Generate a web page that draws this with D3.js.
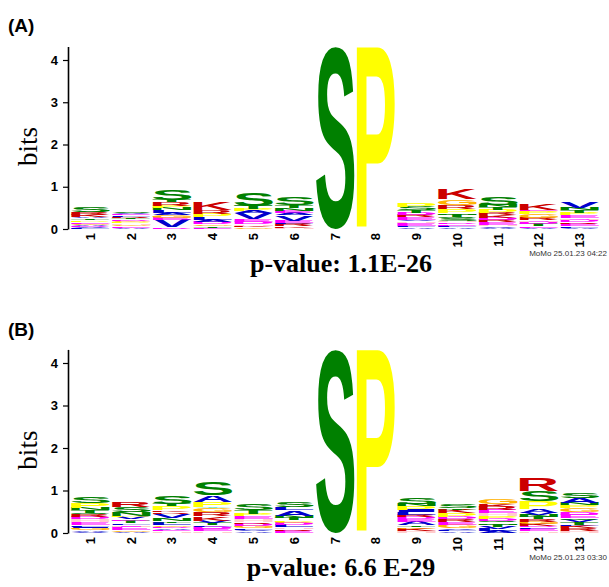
<!DOCTYPE html>
<html>
<head>
<meta charset="utf-8">
<script src="https://cdn.jsdelivr.net/npm/d3@7"></script>
<style>
  body { margin: 0; background: #fff; }
  svg { display: block; }
</style>
</head>
<body>
<div id="logo"></div>
<script>
// Motif positions and y ticks
let positions = [1, 2, 3, 4, 5, 6, 7, 8, 9, 10, 11, 12, 13];
let bitTicks = [0, 1, 2, 3, 4];
let panelNames = ["(A)", "(B)"];
let pValues = ["p-value: 1.1E-26", "p-value: 6.6 E-29"];
let stamps = ["MoMo 25.01.23 04:22", "MoMo 25.01.23 03:30"];

// Letter stacks per position, bottom to top: [residue, bits]
let stacksA = [
  [["L",0.02],["V",0.02],["D",0.03],["A",0.03],["G",0.03],["E",0.04],["P",0.04],["T",0.04],["A",0.04],["K",0.05],["R",0.05],["S",0.13]],
  [["A",0.03],["E",0.03],["G",0.04],["H",0.03],["P",0.04],["G",0.03],["D",0.03],["T",0.03],["R",0.03],["L",0.03],["E",0.03],["V",0.02],["S",0.03]],
  [["D",0.04],["V",0.17],["E",0.06],["G",0.06],["A",0.05],["L",0.06],["N",0.06],["P",0.05],["R",0.08],["T",0.05],["S",0.25]],
  [["E",0.03],["T",0.04],["G",0.04],["D",0.05],["A",0.05],["L",0.07],["P",0.08],["R",0.1],["K",0.18]],
  [["G",0.04],["K",0.04],["H",0.03],["D",0.06],["E",0.06],["V",0.14],["A",0.05],["P",0.05],["T",0.08],["S",0.3]],
  [["H",0.03],["K",0.04],["R",0.05],["L",0.03],["E",0.05],["V",0.12],["A",0.06],["E",0.05],["N",0.06],["T",0.07],["S",0.18]],
  [["S",4.31]],
  [["P",4.31]],
  [["A",0.04],["L",0.03],["E",0.07],["H",0.04],["V",0.04],["E",0.06],["R",0.05],["D",0.06],["T",0.06],["S",0.08],["P",0.08]],
  [["A",0.04],["L",0.04],["E",0.04],["D",0.04],["H",0.03],["S",0.05],["Q",0.04],["T",0.05],["N",0.04],["P",0.1],["R",0.1],["G",0.13],["K",0.24]],
  [["A",0.03],["V",0.03],["H",0.04],["E",0.06],["R",0.05],["D",0.06],["K",0.05],["R",0.06],["P",0.08],["T",0.05],["N",0.05],["S",0.18]],
  [["A",0.03],["E",0.04],["T",0.05],["D",0.05],["H",0.04],["R",0.05],["G",0.1],["P",0.06],["E",0.04],["K",0.14]],
  [["A",0.03],["L",0.03],["E",0.06],["R",0.04],["D",0.06],["H",0.04],["E",0.06],["P",0.06],["T",0.06],["N",0.05],["V",0.16]]
];

let stacksB = [
  [["V",0.03],["A",0.03],["G",0.05],["I",0.04],["L",0.04],["E",0.06],["H",0.07],["D",0.06],["R",0.06],["Q",0.04],["T",0.05],["N",0.05],["P",0.12],["S",0.15]],
  [["A",0.03],["G",0.04],["E",0.08],["H",0.04],["L",0.04],["T",0.05],["D",0.04],["V",0.05],["P",0.04],["N",0.08],["S",0.12],["R",0.12]],
  [["H",0.04],["E",0.04],["A",0.04],["D",0.03],["G",0.04],["L",0.05],["T",0.04],["N",0.07],["V",0.1],["R",0.04],["K",0.04],["P",0.1],["T",0.05],["S",0.18]],
  [["H",0.04],["E",0.06],["D",0.05],["L",0.04],["T",0.05],["V",0.05],["K",0.1],["R",0.1],["G",0.1],["Y",0.03],["P",0.12],["A",0.15],["S",0.32]],
  [["A",0.04],["V",0.04],["L",0.04],["G",0.05],["D",0.05],["R",0.04],["H",0.06],["E",0.07],["P",0.06],["T",0.08],["S",0.15]],
  [["E",0.05],["R",0.04],["H",0.04],["L",0.05],["D",0.05],["G",0.04],["P",0.04],["T",0.05],["N",0.05],["A",0.12],["L",0.07],["S",0.12]],
  [["S",4.31]],
  [["P",4.31]],
  [["H",0.05],["K",0.05],["G",0.04],["T",0.04],["A",0.08],["E",0.06],["D",0.05],["R",0.06],["L",0.07],["I",0.05],["P",0.08],["N",0.05],["S",0.15]],
  [["A",0.04],["L",0.04],["V",0.04],["G",0.08],["E",0.07],["R",0.06],["D",0.05],["P",0.08],["K",0.08],["T",0.04],["S",0.1]],
  [["A",0.05],["L",0.05],["V",0.05],["T",0.05],["N",0.04],["Q",0.05],["D",0.05],["P",0.07],["H",0.05],["E",0.08],["R",0.08],["K",0.06],["G",0.12]],
  [["H",0.04],["E",0.05],["L",0.04],["D",0.04],["K",0.05],["G",0.05],["R",0.05],["T",0.05],["N",0.05],["V",0.05],["A",0.1],["P",0.17],["S",0.24],["R",0.3]],
  [["H",0.05],["R",0.06],["K",0.05],["L",0.04],["T",0.05],["V",0.05],["Q",0.05],["E",0.08],["D",0.06],["G",0.09],["P",0.07],["N",0.05],["A",0.13],["S",0.11]]
];

// MEME protein colour scheme
let residueColor = {
  A: "#0000cc", C: "#0000cc", F: "#0000cc", I: "#0000cc", L: "#0000cc", M: "#0000cc", V: "#0000cc", W: "#0000cc",
  N: "#008000", Q: "#008000", S: "#008000", T: "#008000",
  D: "#ff00ff", E: "#ff00ff",
  K: "#cc0000", R: "#cc0000",
  G: "#ffb300", H: "#ffcccc", P: "#ffff00", Y: "#33e6cc"
};

let width = 609, height = 587;
let letterFont = "'Liberation Sans', Arial, Helvetica, sans-serif";

let svg = d3.select("#logo").append("svg")
    .attr("width", width)
    .attr("height", height);

svg.append("rect").attr("width", width).attr("height", height).attr("fill", "#fff");

// glyph ink boxes, measured once on a canvas
let ctx = document.createElement("canvas").getContext("2d");
ctx.font = "bold 100px " + letterFont;
let boxCache = {};
function glyphBox(ch) {
    if (!boxCache[ch]) {
        let m = ctx.measureText(ch);
        boxCache[ch] = {l: m.actualBoundingBoxLeft, r: m.actualBoundingBoxRight,
                        a: m.actualBoundingBoxAscent, d: m.actualBoundingBoxDescent};
    }
    return boxCache[ch];
}

let x = d3.scaleBand()
    .domain(positions)
    .range([70, 600])
    .padding(0);

function drawPanel(i, stacks, zeroY, fourY) {
    let y = d3.scaleLinear().domain([0, 4]).range([zeroY, fourY]);
    let g = svg.append("g");

    // panel letter
    g.append("text")
        .attr("x", 8)
        .attr("y", zeroY - 197)
        .style("font-family", "Arial, 'Liberation Sans', sans-serif")
        .style("font-weight", "bold")
        .style("font-size", "19px")
        .text(panelNames[i]);

    // letter stacks
    let letters = [];
    stacks.forEach((stack, j) => {
        let cum = 0;
        stack.forEach(([res, bits]) => {
            letters.push({pos: positions[j], res: res, lo: cum, hi: cum + bits});
            cum += bits;
        });
    });

    g.append("g").selectAll("text")
        .data(letters)
        .enter()
        .append("text")
        .style("font-family", letterFont)
        .style("font-weight", "bold")
        .style("font-size", "100px")
        .attr("fill", d => residueColor[d.res])
        .attr("transform", function(d) {
            let b = glyphBox(d.res);
            let x0 = x(d.pos) + 1;
            let w = x.bandwidth() - 2;
            let top = y(d.hi);
            let h = y(d.lo) - y(d.hi);
            return `translate(${x0},${top}) scale(${w / (b.l + b.r)},${h / (b.a + b.d)}) translate(${b.l},${b.a})`;
        })
        .text(d => d.res);

    // y axis
    let yAxis = g.append("g")
        .attr("transform", "translate(68,0)")
        .call(d3.axisLeft(y.copy().domain([0, 4.32]).range([zeroY, zeroY - (zeroY - fourY) * 4.32 / 4]))
            .tickValues(bitTicks).tickFormat(d3.format("d"))
            .tickSize(5).tickSizeOuter(0).tickPadding(5));
    yAxis.select(".domain").attr("stroke", "#000").attr("stroke-width", 1.6);
    yAxis.selectAll(".tick line").attr("stroke-width", 1.2);
    yAxis.selectAll(".tick text")
        .style("font-family", "Arial, 'Liberation Sans', sans-serif")
        .style("font-weight", "bold")
        .style("font-size", "13px");

    // x labels
    let xAxis = g.append("g")
        .attr("transform", `translate(0,${zeroY + 4})`)
        .call(d3.axisBottom(x).tickSize(0).tickPadding(0));
    xAxis.select(".domain").remove();
    xAxis.selectAll(".tick text")
        .attr("transform", "rotate(-90)")
        .attr("x", 0)
        .attr("y", 0)
        .attr("dy", "0.35em")
        .style("text-anchor", "end")
        .style("font-family", "Arial, 'Liberation Sans', sans-serif")
        .style("font-weight", "bold")
        .style("font-size", "13px");

    // axis title
    g.append("text")
        .attr("transform", `translate(37, ${y(1.95)}) rotate(-90)`)
        .style("text-anchor", "middle")
        .style("font-family", "'Liberation Serif', 'Times New Roman', serif")
        .style("font-size", "27px")
        .text("bits");

    g.append("text")
        .attr("x", 607)
        .attr("y", zeroY + 27)
        .style("text-anchor", "end")
        .style("font-family", "Arial, 'Liberation Sans', sans-serif")
        .style("font-size", "8px")
        .attr("fill", "#333")
        .text(stamps[i]);

    g.append("text")
        .attr("x", 341)
        .attr("y", zeroY + 43)
        .style("text-anchor", "middle")
        .style("font-family", "'Liberation Serif', 'Times New Roman', serif")
        .style("font-weight", "bold")
        .style("font-size", "26px")
        .text(pValues[i]);
}

drawPanel(0, stacksA, 229, 60);
drawPanel(1, stacksB, 533, 363);
</script>
</body>
</html>
